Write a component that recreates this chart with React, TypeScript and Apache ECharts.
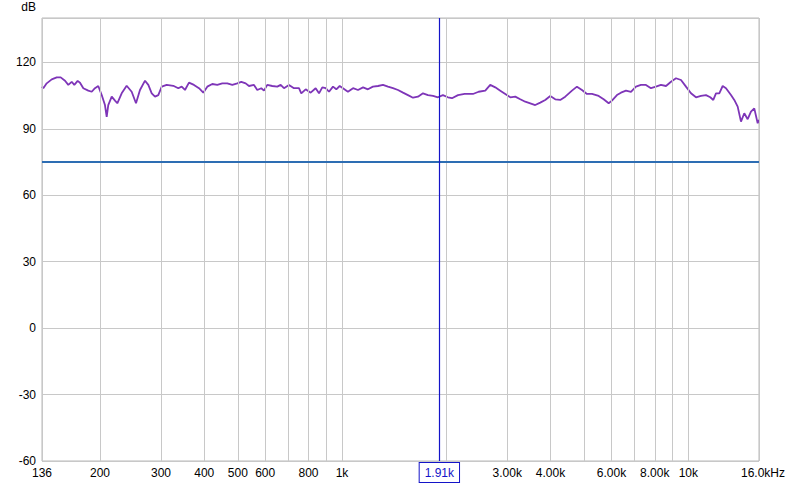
import { useEffect, useRef } from "react";
import * as echarts from "echarts";

const freqHz = [
  136, 137.2, 140.3, 145.1, 150, 154, 158.5, 162, 165.7, 168.6,
  172.4, 175.1, 179, 185, 189.3, 193.4, 197.7, 202.3, 206.7, 209.1,
  211.3, 216.2, 221, 224.4, 231, 238.8, 246.9, 254.1, 260.9, 269.8,
  275.8, 282.1, 288.3, 294.7, 301.5, 311.6, 325.6, 336.6, 344.3, 351.9,
  361.4, 373.6, 386.3, 397.5, 408.2, 422, 436.2, 451, 466.2, 482,
  498.3, 511.7, 526.9, 538.6, 556.8, 569.1, 584.5, 595.1, 608.3, 628.8,
  650.1, 664.9, 679.7, 702.7, 726.4, 751, 762.5, 785.2, 811.7, 839.1,
  858, 877, 897.1, 916.9,
  941.7, 962.6, 984.6, 1006, 1040, 1076, 1112, 1150, 1188, 1228,
  1270, 1313, 1357, 1403, 1451, 1500, 1550, 1603, 1657, 1713,
  1771, 1831, 1892, 1956, 2022, 2077, 2162, 2260, 2388,
  2480, 2592, 2679, 2770, 2864, 2961, 3061, 3164, 3271, 3381,
  3496, 3614, 3736, 3862, 3993, 4128, 4267, 4412, 4613, 4769,
  4930, 5097, 5269, 5509, 5695, 5888, 6018, 6222,
  6389, 6605, 6829, 7059, 7298, 7545, 7800, 8063, 8336, 8621,
  8912, 9213, 9525, 9846, 10179, 10523, 10879, 11246, 11573, 11806,
  12020, 12287, 12567, 12846, 13280, 13575, 13885, 14193, 14507, 14839,
  15168, 15505, 15859, 16000,
];

const levelDb = [
  109.0, 108.3, 110.5, 112.3, 113.2, 113.2, 111.7, 109.8, 111.2, 109.8,
  111.6, 110.8, 108.3, 107.2, 106.7, 108.3, 109.3, 105.2, 100.7, 95.4,
  100.7, 104.5, 102.7, 101.5, 106.0, 109.4, 106.7, 101.5, 107.5, 111.7,
  109.8, 106.0, 104.5, 105.2, 109.0, 109.8, 109.4, 108.3, 109.0, 107.5,
  110.8, 109.8, 108.3, 106.3, 109.0, 110.2, 109.8, 110.5, 110.5, 109.8,
  110.5, 111.2, 110.5, 109.3, 109.8, 107.5, 108.3, 107.2, 109.8, 109.3,
  109.0, 109.8, 108.3, 109.8, 108.3, 108.3, 106.0, 107.8, 106.3, 108.3,
  106.0, 108.7, 108.3, 106.7,
  109.0, 107.8, 109.3, 108.3, 106.7, 108.3, 107.5, 108.7, 107.8, 109.0,
  109.3, 109.8, 109.0, 108.3, 107.5, 106.3, 105.2, 104.0, 104.5, 106.0,
  105.2, 104.8, 104.2, 105.2, 104.2, 103.8, 105.2, 105.7, 105.7,
  106.7, 107.2, 109.8, 108.7, 107.2, 105.7, 104.2, 104.5, 103.3, 102.2,
  101.5, 100.7, 101.8, 103.0, 104.8, 103.3, 103.0, 104.5, 107.2, 109.0,
  107.5, 105.7, 105.7, 104.8, 103.3, 101.5, 102.7, 105.2,
  106.3, 107.2, 106.7, 109.0, 109.8, 109.8, 108.3, 109.0, 109.8, 109.3,
  111.2, 112.8, 112.0, 109.0, 106.0, 104.2, 104.8, 105.2, 104.2, 103.0,
  106.0, 106.0, 109.3, 108.3, 105.2, 103.0, 100.0, 93.2, 97.0, 94.3,
  97.7, 99.2, 92.5, 94.0,
];

const gridFreqs = [
  200, 300, 400, 500, 600, 700, 800, 900, 1000,
  2000, 3000, 4000, 5000, 6000, 7000, 8000, 9000, 10000,
];
const labelFreqs = [136, 200, 300, 400, 500, 600, 800, 1000, 3000, 4000, 6000, 8000, 10000, 16000];
const labelTexts = ["136", "200", "300", "400", "500", "600", "800", "1k", "3.00k", "4.00k", "6.00k", "8.00k", "10k", "16.0kHz"];

const refLevelDb = 75;
const cursorFreq = 1910;
const cursorText = "1.91k";

export default function App() {
  const ref = useRef<HTMLDivElement>(null);

  useEffect(() => {
    const chart = echarts.init(ref.current as HTMLDivElement, null, { renderer: "svg" });
    const font = "'Liberation Sans', Arial, sans-serif";
    const curve = freqHz.map((f, i) => [f, levelDb[i]]);

    const gridLineData = gridFreqs.map((f) => ({ xAxis: f, label: { show: false } }));
    const labelData = labelFreqs.map((f, i) => ({
      xAxis: f,
      label: {
        show: true,
        position: "start",
        distance: 6,
        formatter: labelTexts[i],
        color: "#000",
        fontSize: 12,
        fontFamily: font,
        padding: i === labelFreqs.length - 1 ? [0, 0, 0, 8] : 0,
      },
    }));

    chart.setOption({
      animation: false,
      textStyle: { fontFamily: font },
      grid: {
        left: 42,
        right: 41,
        top: 18,
        bottom: 25,
        show: true,
        borderColor: "#b8b8b8",
        borderWidth: 1,
        backgroundColor: "#fff",
        containLabel: false,
        outerBoundsMode: "none",
      },
      xAxis: {
        type: "log",
        logBase: 10,
        min: 136,
        max: 16000,
        axisLine: { show: false },
        axisTick: { show: false },
        axisLabel: { show: false },
        splitLine: { show: false },
      },
      yAxis: {
        type: "value",
        min: -60,
        max: 140,
        interval: 30,
        name: "dB",
        nameLocation: "end",
        nameGap: 5,
        nameTextStyle: {
          align: "right",
          verticalAlign: "bottom",
          padding: [0, 6, 0, 0],
          color: "#000",
          fontSize: 12,
          fontFamily: font,
        },
        axisLine: { show: false },
        axisTick: { show: false },
        axisLabel: {
          color: "#000",
          fontSize: 12,
          margin: 6,
          fontFamily: font,
          showMaxLabel: false,
          formatter: (v: number) => (v % 30 === 0 ? String(v) : ""),
        },
        splitLine: { show: true, lineStyle: { color: "#c8c8c8", width: 1 } },
      },
      series: [
        {
          type: "line",
          data: curve,
          z: 1,
          silent: true,
          showSymbol: false,
          lineStyle: { opacity: 0 },
          markLine: {
            silent: true,
            symbol: ["none", "none"],
            animation: false,
            lineStyle: { color: "#c8c8c8", width: 1, type: "solid" },
            data: [...gridLineData, ...labelData],
          },
        },
        {
          type: "line",
          data: curve,
          z: 3,
          silent: true,
          showSymbol: false,
          smooth: false,
          lineStyle: { color: "#7e35b8", width: 1.8 },
          markLine: {
            silent: true,
            symbol: ["none", "none"],
            animation: false,
            label: { show: false },
            lineStyle: { color: "#2d6db3", width: 2, type: "solid" },
            data: [{ yAxis: refLevelDb }],
          },
        },
        {
          type: "line",
          data: [],
          z: 5,
          silent: true,
          showSymbol: false,
          markLine: {
            silent: true,
            symbol: ["none", "none"],
            animation: false,
            lineStyle: { color: "#1414c8", width: 1.2, type: "solid" },
            data: [
              {
                xAxis: cursorFreq,
                label: {
                  show: true,
                  position: "start",
                  distance: 2,
                  formatter: cursorText,
                  color: "#1414c8",
                  fontSize: 12,
                  fontFamily: font,
                  backgroundColor: "#fff",
                  borderColor: "#1414c8",
                  borderWidth: 1,
                  padding: [4, 5, 3, 5],
                },
              },
            ],
          },
        },
      ],
    });

    return () => chart.dispose();
  }, []);

  return (
    <div
      ref={ref}
      style={{ position: "fixed", left: 0, top: 0, width: 800, height: 486, background: "#fff" }}
    />
  );
}
